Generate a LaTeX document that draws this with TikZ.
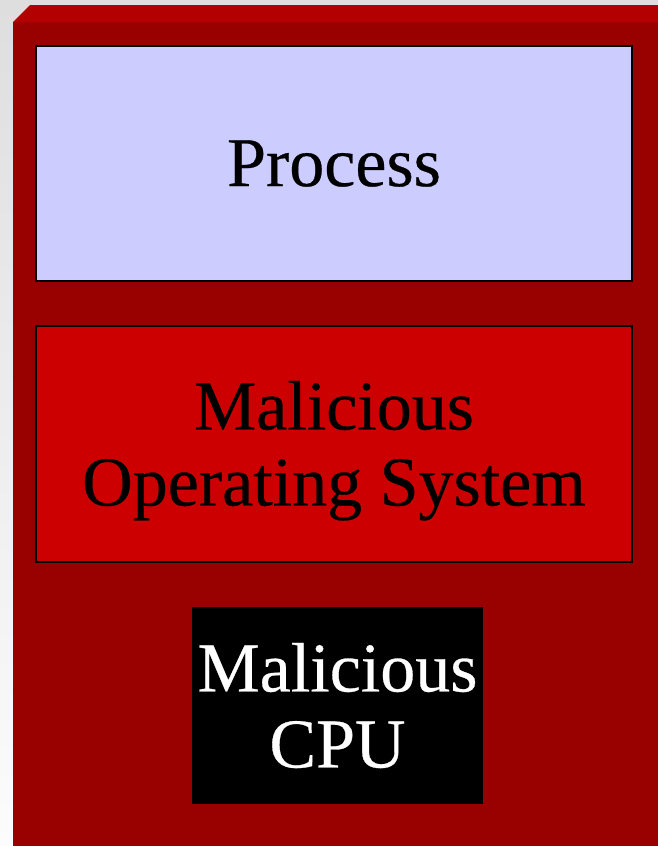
\documentclass[tikz,border=0pt]{standalone}
\usepackage{fontspec}
\setmainfont{Liberation Serif}[FakeBold=0.4]
\begin{document}
\begin{tikzpicture}[x=1pt,y=-1pt,
  layer/.style={rectangle, inner sep=0pt, align=center, font=\fontsize{70}{76}\selectfont},
  procbox/.style={layer, fill=procblue, draw=black, line width=1.5pt},
  osbox/.style={layer, fill=osred, draw=black, line width=1.5pt},
  cpubox/.style={layer, fill=black, text=white}]
\definecolor{procblue}{HTML}{CCCCFF}
\definecolor{osred}{HTML}{CC0000}
\definecolor{frontred}{HTML}{990000}
\definecolor{topred}{HTML}{B30000}
\definecolor{bgtop}{HTML}{DEDEDE}
\definecolor{bgbot}{HTML}{FCFCFC}
\useasboundingbox (0,0) rectangle (658,846);
% backdrop
\shade[top color=bgtop, bottom color=bgbot] (0,0) rectangle (658,846);
% machine block: front and top faces
\fill[frontred] (13,22) rectangle (658,846);
\fill[topred] (13,22) -- (30,5) -- (658,5) -- (658,22) -- cycle;
% layers (a tall strut on the first OS line lowers that text a little)
\node[procbox, minimum width=596pt, minimum height=235pt] (proc) at (334,163.5) {Process};
\node[osbox, minimum width=596pt, minimum height=236pt] (os) at (334,444) {\rule{0pt}{62pt}Malicious\\Operating System};
\node[cpubox, minimum width=291pt, minimum height=197pt] (cpu) at (337.5,705.5) {Malicious\\CPU};
\end{tikzpicture}
\end{document}
